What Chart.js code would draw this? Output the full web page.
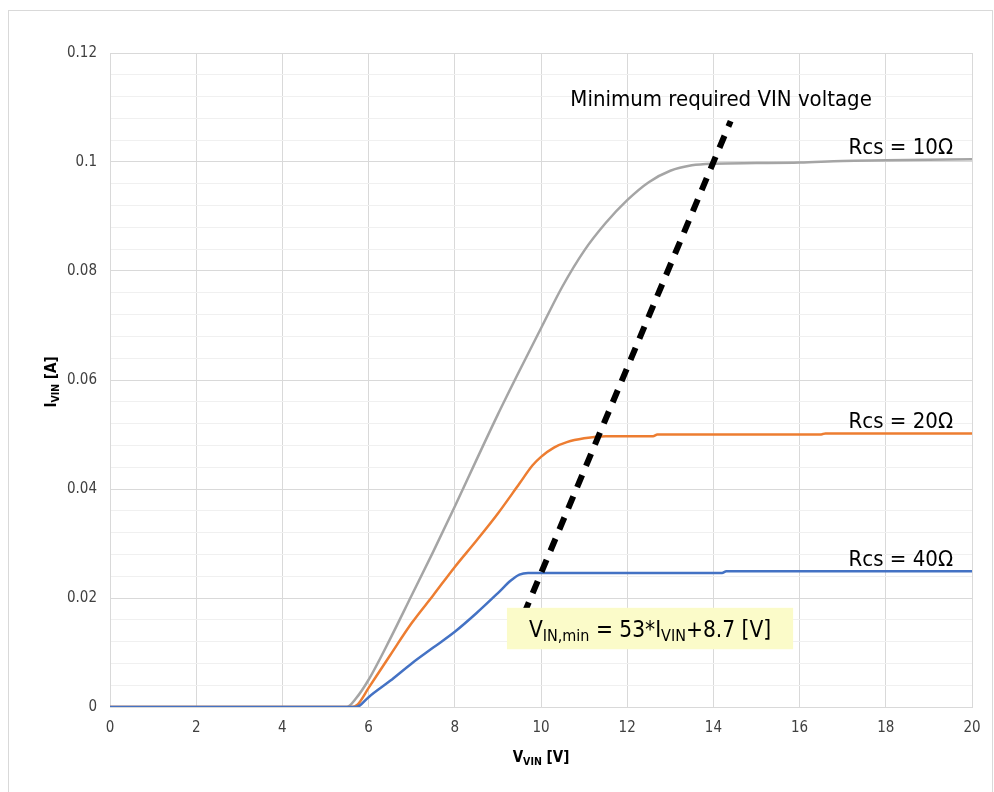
<!DOCTYPE html>
<html>
<head>
<meta charset="utf-8">
<script src="https://cdn.jsdelivr.net/npm/chart.js@4/dist/chart.umd.min.js"></script>
<style>
    html, body { margin: 0; padding: 0; background: #ffffff; }
    canvas { display: block; }
</style>
</head>
<body>
<canvas id="chart" width="994" height="792"></canvas>
<script>
const FONT = "'DejaVu Sans Condensed', 'DejaVu Sans', sans-serif";

// Rcs = 10 ohm (grey)
const rcs10V = [0, 5.5, 5.7, 6, 6.5, 7, 7.5, 8, 8.5, 9, 9.5, 10, 10.5, 11, 11.5, 12, 12.5, 13, 13.5, 14, 15, 16, 17, 18, 19, 20];
const rcs10I = [0, 0, 0.0015, 0.005, 0.0125, 0.0205, 0.0285, 0.0368, 0.0453, 0.0537, 0.0617, 0.0695, 0.0772, 0.0837, 0.0888, 0.093, 0.0963, 0.0984, 0.0994, 0.0997, 0.0998, 0.0999, 0.1002, 0.1003, 0.1004, 0.1005];

// Rcs = 20 ohm (orange)
const rcs20V = [0, 5.6, 5.75, 6, 6.5, 7, 7.5, 8, 8.5, 9, 9.5, 9.8, 10, 10.3, 10.6, 11, 11.5, 12, 12.6, 12.7, 16.5, 16.6, 20];
const rcs20I = [0, 0, 0.0005, 0.0035, 0.0095, 0.0154, 0.0205, 0.0257, 0.0305, 0.0355, 0.041, 0.0443, 0.0459, 0.0476, 0.0486, 0.0493, 0.0497, 0.0497, 0.0497, 0.05, 0.05, 0.0502, 0.0502];

// Rcs = 40 ohm (blue)
const rcs40V = [0, 5.7, 5.8, 6, 6.5, 7, 7.5, 8, 8.5, 9, 9.3, 9.5, 9.7, 10, 14.2, 14.3, 20];
const rcs40I = [0, 0, 0.0003, 0.0018, 0.0048, 0.008, 0.0109, 0.0138, 0.0172, 0.0209, 0.0232, 0.0243, 0.0246, 0.0246, 0.0246, 0.0249, 0.0249];

// minimum required VIN line: V = 53*I + 8.7
const minLineV = [9.6, 14.4];
const minLineI = [0.017, 0.1075];

const seriesLabels = ['Rcs = 10Ω', 'Rcs = 20Ω', 'Rcs = 40Ω'];
const xTicks = [0, 2, 4, 6, 8, 10, 12, 14, 16, 18, 20];

const toPoints = (xs, ys) => xs.map((x, i) => ({ x, y: ys[i] }));

const isMajor = (v) => Math.abs(v / 0.02 - Math.round(v / 0.02)) < 1e-6;

const frameBorder = {
    id: 'frameBorder',
    beforeDraw(chart) {
        const { ctx } = chart;
        ctx.save();
        ctx.strokeStyle = '#d9d9d9';
        ctx.lineWidth = 1;
        ctx.strokeRect(8.5, 10.5, 984, 800);
        ctx.restore();
    },
};

// draws a run of [text, isSub] pieces starting at x on baseline y
function drawRuns(ctx, runs, x, y, size, subSize, weight) {
    let cx = x;
    runs.forEach(([text, sub]) => {
        ctx.font = `${weight} ${sub ? subSize : size}px ${FONT}`;
        ctx.fillText(text, cx, sub ? y + size * 0.22 : y);
        cx += ctx.measureText(text).width;
    });
    return cx - x;
}

function runsWidth(ctx, runs, size, subSize, weight) {
    let w = 0;
    runs.forEach(([text, sub]) => {
        ctx.font = `${weight} ${sub ? subSize : size}px ${FONT}`;
        w += ctx.measureText(text).width;
    });
    return w;
}

const annotations = {
    id: 'annotations',
    afterDatasetsDraw(chart) {
        const { ctx, scales, chartArea } = chart;
        const xs = scales.x;
        const ys = scales.y;

        ctx.save();
        ctx.fillStyle = '#000000';
        ctx.textBaseline = 'alphabetic';

        // series labels above the plateaus
        ctx.font = `22px ${FONT}`;
        ctx.textAlign = 'right';
        const plateaus = [rcs10I[rcs10I.length - 1], rcs20I[rcs20I.length - 1], rcs40I[rcs40I.length - 1]];
        seriesLabels.forEach((label, i) => {
            ctx.fillText(label, chartArea.right - 19, ys.getPixelForValue(plateaus[i]) - 5);
        });

        // line label
        ctx.textAlign = 'left';
        ctx.fillText('Minimum required VIN voltage', xs.getPixelForValue(10.68), ys.getPixelForValue(0.1102));

        // formula box
        const bx0 = xs.getPixelForValue(9.21);
        const bx1 = xs.getPixelForValue(15.85);
        const by0 = ys.getPixelForValue(0.0182);
        const by1 = ys.getPixelForValue(0.0106);
        ctx.fillStyle = '#fbfbc9';
        ctx.fillRect(bx0, by0, bx1 - bx0, by1 - by0);

        const runs = [['V', false], ['IN,min', true], [' = 53*I', false], ['VIN', true], ['+8.7 [V]', false]];
        const w = runsWidth(ctx, runs, 22.5, 16, 'normal');
        ctx.fillStyle = '#000000';
        drawRuns(ctx, runs, (bx0 + bx1) / 2 - w / 2, (by0 + by1) / 2 + 8, 22.5, 16, 'normal');

        // axis titles
        const xRuns = [['V', false], ['VIN', true], [' [V]', false]];
        const xw = runsWidth(ctx, xRuns, 15, 10.5, 'bold');
        drawRuns(ctx, xRuns, (chartArea.left + chartArea.right) / 2 - xw / 2, chartArea.bottom + 55, 15, 10.5, 'bold');

        const yRuns = [['I', false], ['VIN', true], [' [A]', false]];
        const yw = runsWidth(ctx, yRuns, 15, 10.5, 'bold');
        ctx.translate(56, (chartArea.top + chartArea.bottom) / 2 + 2);
        ctx.rotate(-Math.PI / 2);
        drawRuns(ctx, yRuns, -yw / 2, 0, 15, 10.5, 'bold');

        ctx.restore();
    },
};

Chart.defaults.font.family = FONT;
Chart.defaults.font.size = 15;
Chart.defaults.color = '#404040';

new Chart(document.getElementById('chart').getContext('2d'), {
    type: 'line',
    data: {
        datasets: [
            {
                data: toPoints(minLineV, minLineI),
                borderColor: '#000000',
                borderWidth: 6,
                borderDash: [13, 10],
                pointRadius: 0,
                order: 0,
            },
            {
                label: seriesLabels[0],
                data: toPoints(rcs10V, rcs10I),
                borderColor: '#a5a5a5',
                borderWidth: 2.5,
                pointRadius: 0,
                cubicInterpolationMode: 'monotone',
                order: 3,
            },
            {
                label: seriesLabels[1],
                data: toPoints(rcs20V, rcs20I),
                borderColor: '#ed7d31',
                borderWidth: 2.5,
                pointRadius: 0,
                cubicInterpolationMode: 'monotone',
                order: 2,
            },
            {
                label: seriesLabels[2],
                data: toPoints(rcs40V, rcs40I),
                borderColor: '#4472c4',
                borderWidth: 2.5,
                pointRadius: 0,
                cubicInterpolationMode: 'monotone',
                order: 1,
            },
        ],
    },
    options: {
        responsive: false,
        animation: false,
        layout: {
            padding: { top: 53, right: 22, left: 0, bottom: 0 },
        },
        plugins: {
            legend: { display: false },
            tooltip: { enabled: false },
        },
        scales: {
            x: {
                type: 'linear',
                min: 0,
                max: 20,
                afterBuildTicks(scale) {
                    scale.ticks = xTicks.map((value) => ({ value }));
                },
                afterFit(scale) {
                    scale.height = 85;
                },
                ticks: {
                    padding: 12,
                    maxRotation: 0,
                    color: '#404040',
                },
                grid: {
                    color: '#d9d9d9',
                    drawTicks: false,
                },
                border: { color: '#d9d9d9' },
            },
            y: {
                type: 'linear',
                min: 0,
                max: 0.12,
                afterFit(scale) {
                    scale.width = 110;
                },
                ticks: {
                    stepSize: 0.004,
                    autoSkip: false,
                    padding: 13,
                    color: '#404040',
                    callback: (v) => (isMajor(v) ? String(Math.round(v * 100) / 100) : ''),
                },
                grid: {
                    drawTicks: false,
                    color: (ctx) => (isMajor(ctx.tick.value) ? '#d9d9d9' : '#f0f0f0'),
                },
                border: { color: '#d9d9d9' },
            },
        },
    },
    plugins: [frameBorder, annotations],
});
</script>
</body>
</html>
